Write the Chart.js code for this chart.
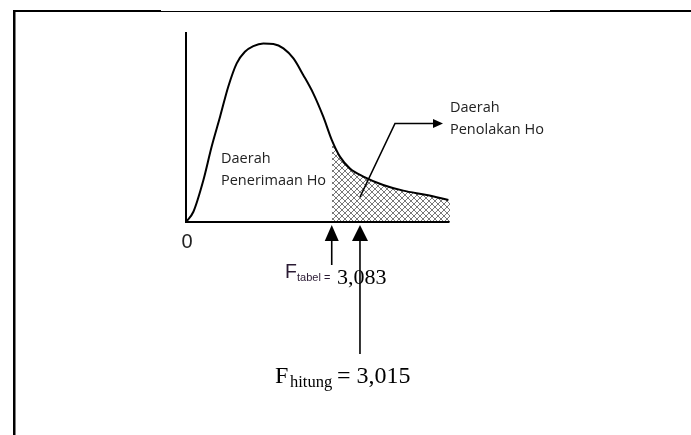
<!DOCTYPE html>
<html>
<head>
<meta charset="utf-8">
<script src="https://cdn.jsdelivr.net/npm/chart.js@4"></script>
<style>
  html, body { margin: 0; padding: 0; background: #fff; }
  #wrap { position: relative; width: 691px; height: 435px; }
</style>
</head>
<body>
<div id="wrap"><canvas id="fChart" width="691" height="435"></canvas></div>
<script>
// F distribution curve (x: 0..10, y: 0..1)
const curveX = [0, 0.28, 0.66, 0.97, 1.29, 1.60, 1.92, 2.23, 2.55, 2.93, 3.31, 3.69, 4.07, 4.44, 4.82, 5.20, 5.52, 5.83, 6.21, 6.72, 7.47, 8.23, 9.12, 9.94];
const curveY = [0, 0.054, 0.221, 0.396, 0.554, 0.712, 0.835, 0.896, 0.926, 0.940, 0.937, 0.914, 0.861, 0.774, 0.677, 0.554, 0.432, 0.344, 0.282, 0.239, 0.195, 0.165, 0.142, 0.116];

// critical points on the x axis
const fTabelX = 5.52;
const fHitungX = 6.59;

const labelAccept = ["Daerah", "Penerimaan Ho"];
const labelReject = ["Daerah", "Penolakan Ho"];
const labelTabel = ["F", "tabel =", "3,083"];
const labelHitung = ["F", "hitung", "= 3,015"];
const labelZero = "0";

const curve = curveX.map((x, i) => ({ x: x, y: curveY[i] }));
const rejectArea = curve.filter(p => p.x >= fTabelX);
rejectArea.push({ x: 10.04, y: 0.113 });

function hatchPattern() {
  const c = document.createElement("canvas");
  c.width = 6; c.height = 6;
  const g = c.getContext("2d");
  g.strokeStyle = "#555";
  g.lineWidth = 0.8;
  g.beginPath();
  g.moveTo(0, 0); g.lineTo(6, 6);
  g.moveTo(6, 0); g.lineTo(0, 6);
  g.stroke();
  return g.createPattern(c, "repeat");
}

function arrowUp(ctx, x, tipY, endY, w, h) {
  ctx.beginPath();
  ctx.moveTo(x, tipY + h - 1);
  ctx.lineTo(x, endY);
  ctx.stroke();
  ctx.beginPath();
  ctx.moveTo(x, tipY);
  ctx.lineTo(x - w / 2, tipY + h);
  ctx.lineTo(x + w / 2, tipY + h);
  ctx.closePath();
  ctx.fill();
}

const annotations = {
  id: "annotations",
  afterDraw(chart) {
    const ctx = chart.ctx;
    const xs = chart.scales.x, ys = chart.scales.y;
    const x0 = xs.getPixelForValue(0), y0 = ys.getPixelForValue(0);
    ctx.save();

    // page frame
    ctx.fillStyle = "#000";
    ctx.fillRect(13, 10, 2.5, 425);
    ctx.fillRect(13, 10, 148, 2);
    ctx.fillRect(161, 11, 389, 1);
    ctx.fillRect(550, 10, 141, 2);

    // axes
    ctx.strokeStyle = "#000";
    ctx.lineWidth = 2;
    ctx.beginPath();
    ctx.moveTo(x0, ys.getPixelForValue(1));
    ctx.lineTo(x0, y0);
    ctx.lineTo(xs.getPixelForValue(9.98), y0);
    ctx.stroke();

    ctx.fillStyle = "#222";
    ctx.textBaseline = "alphabetic";
    ctx.font = "20px 'Liberation Sans', Arial, sans-serif";
    ctx.textAlign = "center";
    ctx.fillText(labelZero, x0 + 1, 248);

    // region labels
    ctx.textAlign = "left";
    ctx.font = "14.5px 'Open Sans', sans-serif";
    ctx.fillText(labelAccept[0], 221, 163);
    ctx.fillText(labelAccept[1], 221, 185);
    ctx.fillText(labelReject[0], 450, 112);
    ctx.fillText(labelReject[1], 450, 134);

    // arrow to rejection label
    ctx.fillStyle = "#000";
    ctx.lineWidth = 1.6;
    ctx.beginPath();
    ctx.moveTo(360, 197);
    ctx.lineTo(395, 123.5);
    ctx.lineTo(434, 123.5);
    ctx.stroke();
    ctx.beginPath();
    ctx.moveTo(443, 123.5);
    ctx.lineTo(433, 119);
    ctx.lineTo(433, 128);
    ctx.closePath();
    ctx.fill();

    // F tabel / F hitung arrows
    const xt = xs.getPixelForValue(fTabelX);
    const xh = xs.getPixelForValue(fHitungX);
    arrowUp(ctx, xt, y0 + 3, 265, 14, 16);
    arrowUp(ctx, xh, y0 + 3, 354, 16, 16);

    // F tabel label
    ctx.fillStyle = "#2a1a33";
    ctx.font = "19.5px 'Liberation Sans', Arial, sans-serif";
    ctx.fillText(labelTabel[0], 285, 278);
    ctx.font = "11px 'Liberation Sans', Arial, sans-serif";
    ctx.fillText(labelTabel[1], 297, 281);
    ctx.fillStyle = "#000";
    ctx.font = "22px 'Liberation Serif', 'Times New Roman', serif";
    ctx.fillText(labelTabel[2], 337, 284);

    // F hitung label
    ctx.font = "24px 'Liberation Serif', 'Times New Roman', serif";
    ctx.fillText(labelHitung[0], 275, 383);
    ctx.font = "16.5px 'Liberation Serif', 'Times New Roman', serif";
    ctx.fillText(labelHitung[1], 290, 387);
    ctx.font = "24px 'Liberation Serif', 'Times New Roman', serif";
    ctx.fillText(labelHitung[2], 337, 383);

    ctx.restore();
  }
};

new Chart(document.getElementById("fChart").getContext("2d"), {
  type: "line",
  data: {
    datasets: [
      {
        data: curve,
        borderColor: "#000",
        borderWidth: 2,
        cubicInterpolationMode: "monotone",
        pointRadius: 0,
        fill: false,
        order: 1
      },
      {
        data: rejectArea,
        borderColor: "rgba(0,0,0,0)",
        borderWidth: 0,
        backgroundColor: hatchPattern(),
        cubicInterpolationMode: "monotone",
        pointRadius: 0,
        fill: "origin",
        order: 2
      }
    ]
  },
  options: {
    responsive: false,
    animation: false,
    layout: { padding: { left: 186, right: 241, top: 32, bottom: 213 } },
    plugins: { legend: { display: false }, tooltip: { enabled: false } },
    scales: {
      x: { type: "linear", min: 0, max: 10, display: false },
      y: { min: 0, max: 1, display: false }
    }
  },
  plugins: [annotations]
});
</script>
</body>
</html>
